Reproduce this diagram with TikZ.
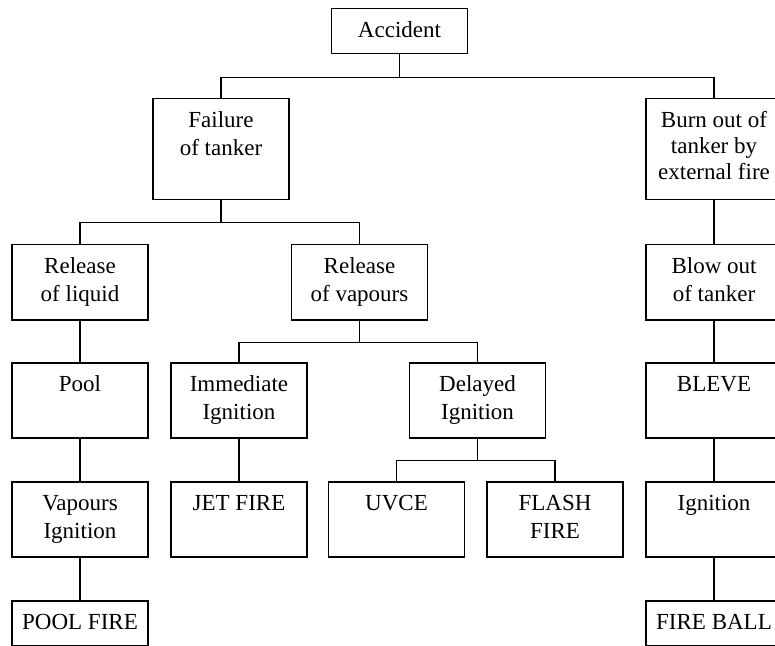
\documentclass[tikz,border=0pt]{standalone}
\usepackage{fontspec}
\setmainfont{Liberation Serif}
\tikzset{
	box/.style={draw, line width=0.75pt, anchor=north, align=center, minimum width=68pt, inner xsep=2pt, inner ysep=0pt, text height=14.25pt, font=\fontsize{11.5}{14}\selectfont},
	lowbox/.style={box, text depth=8.25pt},
	midbox/.style={box, text depth=23.25pt},
	midtwo/.style={box, text height=28.25pt, text depth=9.25pt},
	hightwo/.style={box, text height=28.25pt, text depth=22.25pt},
	highthree/.style={box, font=\fontsize{11.5}{13}\selectfont, text height=40.25pt, text depth=10.25pt},
	wire/.style={line width=0.75pt}
}
\begin{document}
\begin{tikzpicture}[x=0.5pt, y=-0.5pt]
		\useasboundingbox (0,0) rectangle (775,646);
		\clip (0,0) rectangle (775,646);
		\node[lowbox] (acc) at (399.5,8) {Accident};
		\node[hightwo] (fail) at (221,98) {Failure\\of tanker};
		\node[highthree] (burn) at (714,98) {Burn out of\\tanker by\\external fire};
		\node[midtwo] (rliq) at (80,244) {Release\\of liquid};
		\node[midtwo] (rvap) at (359.5,244) {Release\\of vapours};
		\node[midtwo] (blow) at (714,244) {Blow out\\of tanker};
		\node[midbox] (pool) at (80,362) {Pool};
		\node[midtwo] (imm) at (239,362) {Immediate\\Ignition};
		\node[midtwo] (del) at (477.5,362) {Delayed\\Ignition};
		\node[midbox] (bleve) at (714,362) {BLEVE};
		\node[midtwo] (vign) at (80,481) {Vapours\\Ignition};
		\node[midbox] (jet) at (239,481) {JET FIRE};
		\node[midbox] (uvce) at (396.5,481) {UVCE};
		\node[midtwo] (flash) at (555,481) {FLASH\\FIRE};
		\node[midbox] (ign) at (714,481) {Ignition};
		\node[lowbox] (pfire) at (80,600) {POOL FIRE};
		\node[lowbox] (fball) at (714,600) {FIRE BALL};
		\draw[wire] (acc.south) -- ++(0,23) -| (fail.north);
		\draw[wire] (acc.south) -- ++(0,23) -| (burn.north);
		\draw[wire] (fail.south) -- ++(0,22) -| (rliq.north);
		\draw[wire] (fail.south) -- ++(0,22) -| (rvap.north);
		\draw[wire] (burn.south) -- (blow.north);
		\draw[wire] (rliq.south) -- (pool.north);
		\draw[wire] (rvap.south) -- ++(0,22) -| (imm.north);
		\draw[wire] (rvap.south) -- ++(0,22) -| (del.north);
		\draw[wire] (blow.south) -- (bleve.north);
		\draw[wire] (pool.south) -- (vign.north);
		\draw[wire] (imm.south) -- (jet.north);
		\draw[wire] (del.south) -- ++(0,22) -| (uvce.north);
		\draw[wire] (del.south) -- ++(0,22) -| (flash.north);
		\draw[wire] (bleve.south) -- (ign.north);
		\draw[wire] (vign.south) -- (pfire.north);
		\draw[wire] (ign.south) -- (fball.north);
\end{tikzpicture}
\end{document}
